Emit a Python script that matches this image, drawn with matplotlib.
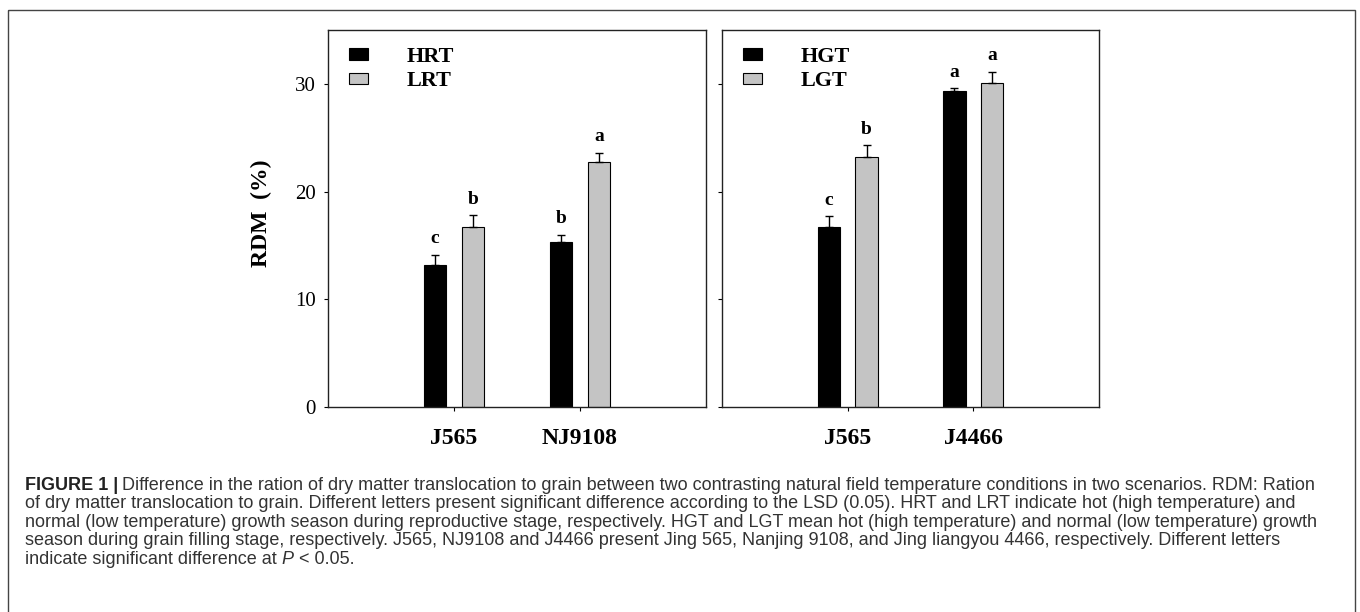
import matplotlib
matplotlib.use('Agg')
import matplotlib.pyplot as plt
from matplotlib.patches import Patch, Rectangle
import numpy as np

# --- data ---
left_cats = ['J565', 'NJ9108']
hrt = [13.2, 15.35]
hrt_err = [0.9, 0.65]
lrt = [16.7, 22.7]
lrt_err = [1.1, 0.9]
hrt_letters = ['c', 'b']
lrt_letters = ['b', 'a']

right_cats = ['J565', 'J4466']
hgt = [16.7, 29.3]
hgt_err = [1.0, 0.3]
lgt = [23.2, 30.1]
lgt_err = [1.1, 1.0]
hgt_letters = ['c', 'a']
lgt_letters = ['b', 'a']

caption_lines = [
    'Difference in the ration of dry matter translocation to grain between two contrasting natural field temperature conditions in two scenarios. RDM: Ration',
    'of dry matter translocation to grain. Different letters present significant difference according to the LSD (0.05). HRT and LRT indicate hot (high temperature) and',
    'normal (low temperature) growth season during reproductive stage, respectively. HGT and LGT mean hot (high temperature) and normal (low temperature) growth',
    'season during grain filling stage, respectively. J565, NJ9108 and J4466 present Jing 565, Nanjing 9108, and Jing liangyou 4466, respectively. Different letters',
]

plt.rcParams['font.family'] = ['Liberation Serif', 'DejaVu Serif']
GRAY = '#c4c4c4'

fig = plt.figure(figsize=(13.6, 6.12), dpi=100)
W, H = 1360.0, 612.0

ax_l = fig.add_axes([328 / W, (H - 407) / H, 378 / W, 377 / H])
ax_r = fig.add_axes([722 / W, (H - 407) / H, 377 / W, 377 / H])


def draw_panel(ax, cats, v1, e1, v2, e2, let1, let2, names):
    x = np.arange(1, len(cats) + 1)
    w = 0.18
    off = 0.15
    ekw = dict(ecolor='black', elinewidth=1.0, capsize=3.0, capthick=1.0)
    ax.bar(x - off, v1, w, color='black', edgecolor='black', linewidth=0.8,
           yerr=[np.zeros(len(v1)), e1], error_kw=ekw, zorder=2)
    ax.bar(x + off, v2, w, color=GRAY, edgecolor='black', linewidth=0.8,
           yerr=[np.zeros(len(v2)), e2], error_kw=ekw, zorder=2)
    for xi, v, e, t in zip(x - off, v1, e1, let1):
        ax.text(xi, v + e + 1.5, t, ha='center', va='center',
                fontsize=14, fontweight='bold')
    for xi, v, e, t in zip(x + off, v2, e2, let2):
        ax.text(xi, v + e + 1.5, t, ha='center', va='center',
                fontsize=14, fontweight='bold')

    ax.set_xlim(0, 3)
    ax.set_ylim(0, 35)
    ax.set_xticks(x)
    ax.set_xticklabels(cats, fontsize=17, fontweight='bold')
    ax.set_yticks([0, 10, 20, 30])
    ax.tick_params(axis='x', direction='out', length=3, width=0.8, pad=12)
    ax.tick_params(axis='y', direction='out', length=3, width=0.8, pad=6,
                   labelsize=15)
    for s in ax.spines.values():
        s.set_linewidth(1.0)
        s.set_color('#222222')

    handles = [Patch(facecolor='black', edgecolor='black', linewidth=0.8),
               Patch(facecolor=GRAY, edgecolor='black', linewidth=0.8)]
    ax.legend(handles, names, loc='upper left', bbox_to_anchor=(0.056, 0.955),
              frameon=False, prop={'size': 16, 'weight': 'bold'},
              handlelength=0.85, handleheight=0.4, handletextpad=1.75,
              labelspacing=0.2, borderaxespad=0, borderpad=0)


draw_panel(ax_l, left_cats, hrt, hrt_err, lrt, lrt_err,
           hrt_letters, lrt_letters, ['HRT', 'LRT'])
draw_panel(ax_r, right_cats, hgt, hgt_err, lgt, lgt_err,
           hgt_letters, lgt_letters, ['HGT', 'LGT'])

ax_l.set_ylabel('RDM  (%)', fontsize=17, fontweight='bold')
ax_l.yaxis.set_label_coords(-0.148, 0.515)
ax_r.tick_params(axis='y', labelleft=False)

# --- caption + outer frame ---
cap = fig.add_axes([0, 0, 1, 1], zorder=-1)
cap.set_xlim(0, W)
cap.set_ylim(H, 0)
cap.axis('off')
cap.add_patch(Rectangle((8, 10), 1347, 640, fill=False, edgecolor='#444444',
                        linewidth=1.0))

cap_font = ['Liberation Sans', 'DejaVu Sans']
fs = 13.0
line_gap = 18.6
y0 = 485
t0 = cap.text(25, y0, 'FIGURE 1 |', fontsize=fs, fontweight='bold',
              family=cap_font, color='#222222', va='center', ha='left')
cap.annotate(caption_lines[0], xy=(1, 0.5), xycoords=t0, xytext=(3, 0),
             textcoords='offset points', fontsize=fs, family=cap_font,
             color='#333333', va='center', ha='left')
for i, line in enumerate(caption_lines[1:], start=1):
    cap.text(25, y0 + i * line_gap, line, fontsize=fs, family=cap_font,
             color='#333333', va='center', ha='left')
t5 = cap.text(25, y0 + 4 * line_gap, 'indicate significant difference at ',
              fontsize=fs, family=cap_font, color='#333333',
              va='center', ha='left')
t6 = cap.annotate('P', xy=(1, 0.5), xycoords=t5, fontsize=fs,
                  family=cap_font, style='italic', color='#333333',
                  va='center', ha='left')
cap.annotate(' < 0.05.', xy=(1, 0.5), xycoords=t6, fontsize=fs,
             family=cap_font, color='#333333', va='center', ha='left')

fig.savefig('out.png', dpi=100)
